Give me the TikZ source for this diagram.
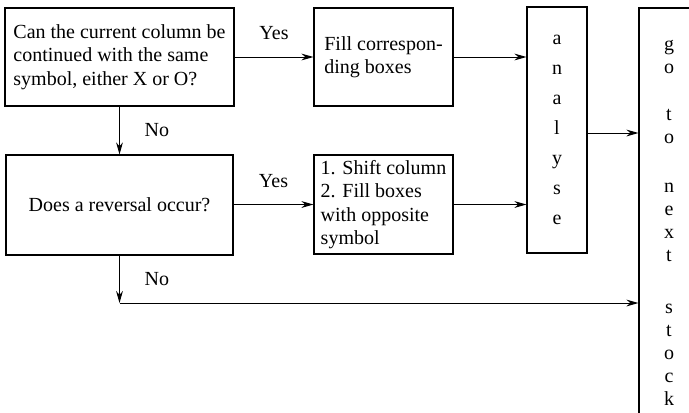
\documentclass[tikz,border=0pt]{standalone}
\usepackage{fontspec}
\setmainfont{Liberation Serif}
\usetikzlibrary{arrows.meta,positioning}

\begin{document}
\begin{tikzpicture}[x=0.5pt,y=-0.5pt,
  box/.style={draw, line width=0.6pt, inner sep=2pt, font=\fontsize{10}{11.75}\selectfont},
  arr/.style={-{Stealth[length=6pt,width=3.4pt]}, line width=0.5pt},
  lbl/.style={font=\fontsize{10}{12}\selectfont}]
\useasboundingbox (0,0) rectangle (689,412);
\clip (0,0) rectangle (689,412);
% questions on the left
\node[box, minimum width=114.5pt, minimum height=49pt, align=left] (ask) at (119.5,57) {
Can the current column be\\
continued with the same\\
symbol, either X or O?
};
\node[box, minimum width=113.5pt, minimum height=50pt, align=center] (rev) at (119.5,205) {Does a reversal occur?};
% actions
\node[box, minimum width=69.5pt, minimum height=49pt, align=left] (fill) at (383.5,57) {
Fill correspon-\\
ding boxes
};
\node[box, minimum width=69.5pt, minimum height=49.5pt, align=left] (shift) at (383.5,204.5) {
1. Shift column\\
2. Fill boxes\\
with opposite\\
symbol
};
\node[box, minimum width=30pt, minimum height=123pt, align=center, font=\fontsize{10}{15}\selectfont] (analyse) at (557,130) {a\\n\\a\\l\\y\\s\\e};
\node[box, minimum width=30pt, minimum height=215pt, align=center, font=\fontsize{10}{11.5}\selectfont] (next) at (669,223) {g\\o\\[12pt]t\\o\\[13pt]n\\e\\x\\t\\[14.5pt]s\\t\\o\\c\\k};
\coordinate (bend) at (rev.south |- 0,303);
% connectors
\draw[arr] (ask.east) -- (fill.west) node[midway,above=5pt,lbl] {Yes};
\draw[arr] (ask.south) -- (rev.north) node[midway,right=9pt,lbl] {No};
\draw[arr] (rev.east |- shift.west) -- (shift.west) node[midway,above=5pt,lbl] {Yes};
\draw[arr] (fill.east) -- (fill.east -| analyse.west);
\draw[arr] (shift.east) -- (shift.east -| analyse.west);
\draw[arr] (analyse.east |- 0,133) -- (next.west |- 0,133);
\draw[arr] (rev.south) -- (bend) node[midway,right=9pt,lbl] {No};
\draw[arr] (bend) -- (bend -| next.west);
\end{tikzpicture}
\end{document}
